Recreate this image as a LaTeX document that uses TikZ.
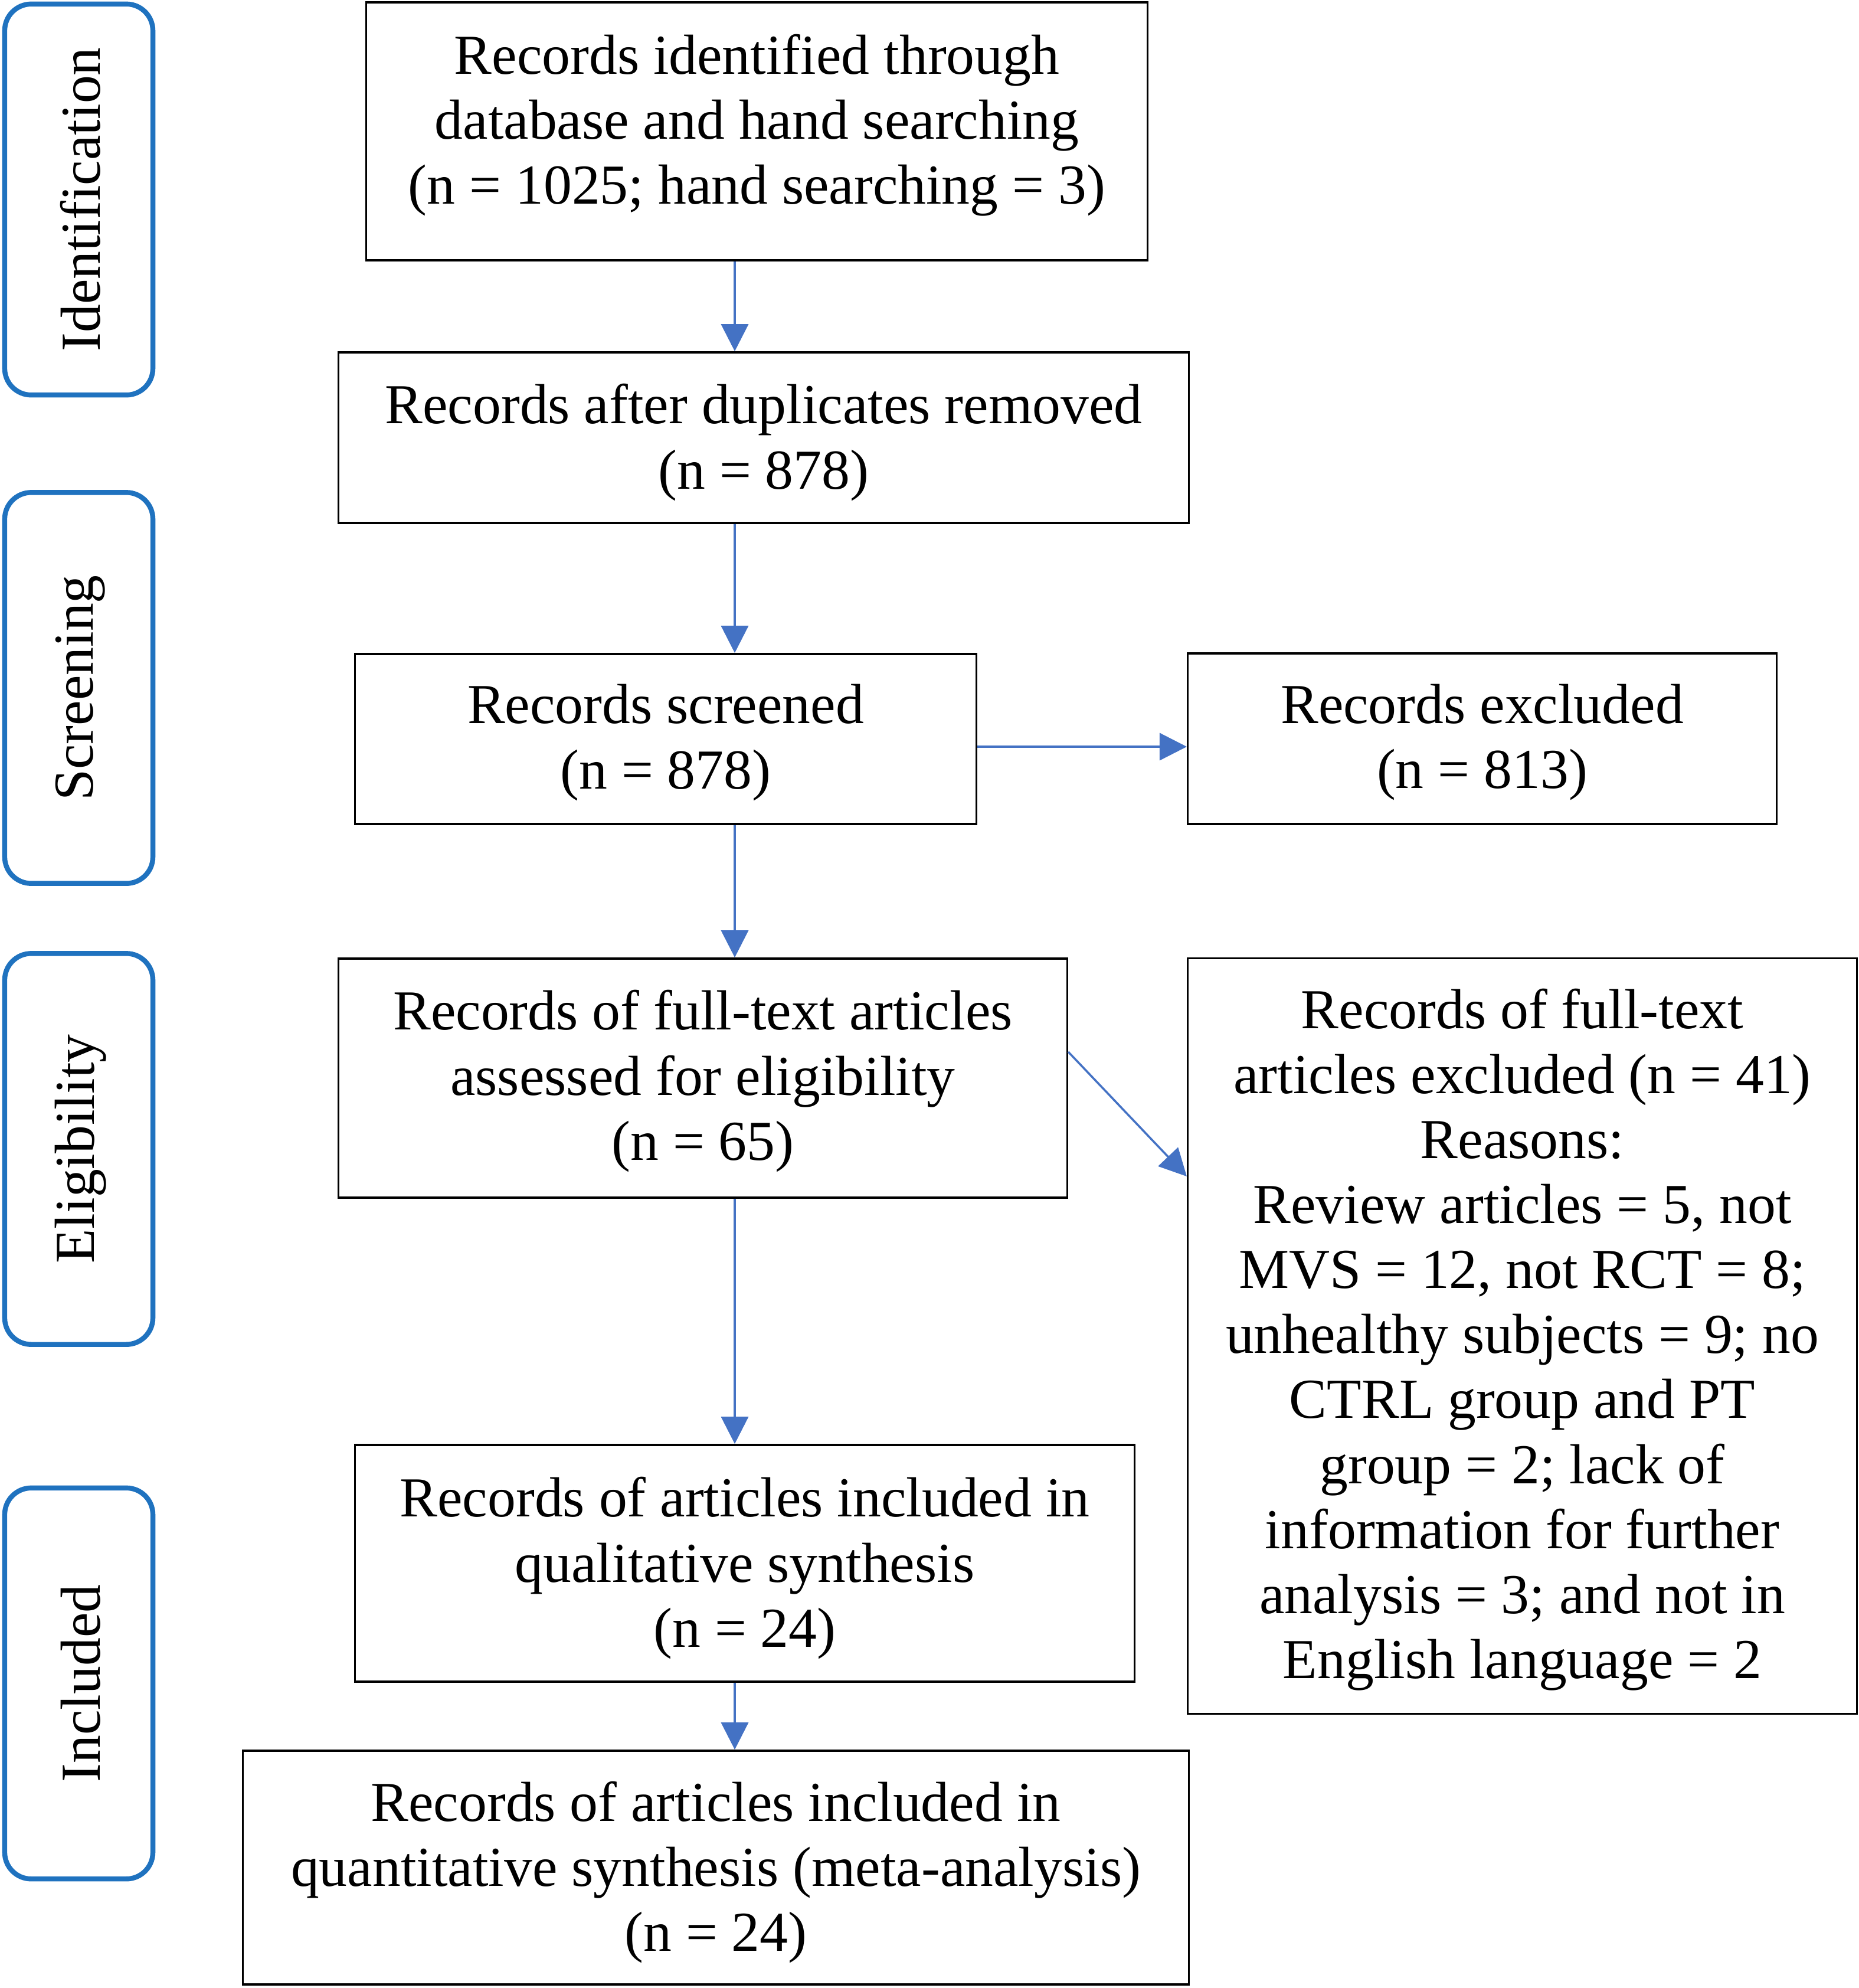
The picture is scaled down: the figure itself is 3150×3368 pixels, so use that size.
\documentclass[tikz,border=0pt]{standalone}
\usepackage{fontspec}
\setmainfont{Liberation Serif}
\usepackage{graphicx}
\usetikzlibrary{arrows.meta}
\definecolor{arrowblue}{RGB}{68,114,196}
\definecolor{sideblue}{RGB}{31,114,191}
\tikzset{
  mainbox/.style={draw=black, line width=1pt, inner sep=0pt},
  boxtext/.style={align=center, inner sep=0pt,
    font=\fontsize{27.2pt}{31.3pt}\selectfont},
  sidebox/.style={draw=sideblue, line width=2.4pt, rounded corners=0.45cm,
    minimum width=2.51cm, minimum height=6.62cm, inner sep=0pt,
    font=\fontsize{27.2pt}{31.3pt}\selectfont},
  arr/.style={draw=arrowblue, line width=1pt,
    -{Triangle[length=0.46cm, width=0.46cm, fill=arrowblue]}}
}
\begin{document}
\begin{tikzpicture}[x=0.01cm, y=-0.01cm]
\useasboundingbox (0,0) rectangle (3150,3368);
% side stage boxes
\node[sidebox] (sid) at (133.5,338) {\hspace{0.06cm}\rotatebox{90}{Identification}};
\node[sidebox] (sscr) at (133.5,1165.5) {\hspace{0.06cm}\rotatebox{90}{Screening}};
\node[sidebox] (selig) at (133.5,1946.5) {\hspace{0.06cm}\rotatebox{90}{Eligibility}};
\node[sidebox] (sinc) at (133.5,2852) {\hspace{0.06cm}\rotatebox{90}{Included}};
% main boxes
\node[mainbox, minimum width=13.23cm, minimum height=4.37cm] (b1) at (1282.5,222.5) {};
\node[mainbox, minimum width=14.40cm, minimum height=2.89cm] (b2) at (1294,741.5) {};
\node[mainbox, minimum width=10.52cm, minimum height=2.88cm] (b3) at (1128,1252) {};
\node[mainbox, minimum width=9.97cm, minimum height=2.89cm] (b4) at (2511.5,1251.5) {};
\node[mainbox, minimum width=12.34cm, minimum height=4.05cm] (b5) at (1191,1826.5) {};
\node[mainbox, minimum width=11.33cm, minimum height=12.79cm] (b6) at (2579.5,2263.5) {};
\node[mainbox, minimum width=13.20cm, minimum height=4.01cm] (b7) at (1262,2648.5) {};
\node[mainbox, minimum width=16.02cm, minimum height=3.96cm] (b8) at (1213,3164) {};
% box texts
\node[boxtext] (t1) at ([yshift=0.10cm]b1.center)
  {Records identified through\\database and hand searching\\(n = 1025; hand searching = 3)};
\node[boxtext] (t2) at ([yshift=-0.08cm]b2.center)
  {Records after duplicates removed\\(n = 878)};
\node[boxtext] (t3) at ([yshift=-0.06cm]b3.center)
  {Records screened\\(n = 878)};
\node[boxtext] (t4) at ([yshift=-0.06cm]b4.center)
  {Records excluded\\(n = 813)};
\node[boxtext] (t5) at ([yshift=-0.05cm]b5.center)
  {Records of full-text articles\\assessed for eligibility\\(n = 65)};
\node[boxtext] (t6) at ([yshift=-0.06cm]b6.center)
  {Records of full-text\\articles excluded (n = 41)\\Reasons:\\Review articles = 5, not\\MVS = 12, not RCT = 8;\\unhealthy subjects = 9; no\\CTRL group and PT\\group = 2; lack of\\information for further\\analysis = 3; and not in\\English language = 2};
\node[boxtext] (t7) at ([yshift=-0.08cm]b7.center)
  {Records of articles included in\\qualitative synthesis\\(n = 24)};
\node[boxtext] (t8) at ([yshift=-0.08cm]b8.center)
  {Records of articles included in\\quantitative synthesis (meta-analysis)\\(n = 24)};
% connector reference coordinates
\coordinate (vx) at (1245,0);
\coordinate (hy) at (0,1265);
\coordinate (d1) at (0,1782);
\coordinate (d2) at (0,1993);
% connectors
\draw[arr] (b1.south -| vx) -- (b2.north -| vx);
\draw[arr] (b2.south -| vx) -- (b3.north -| vx);
\draw[arr] (b3.south -| vx) -- (b5.north -| vx);
\draw[arr] (b5.south -| vx) -- (b7.north -| vx);
\draw[arr] (b7.south -| vx) -- (b8.north -| vx);
\draw[arr] (b3.east |- hy) -- (b4.west |- hy);
\draw[arr] (b5.east |- d1) -- (b6.west |- d2);
\end{tikzpicture}
\end{document}
